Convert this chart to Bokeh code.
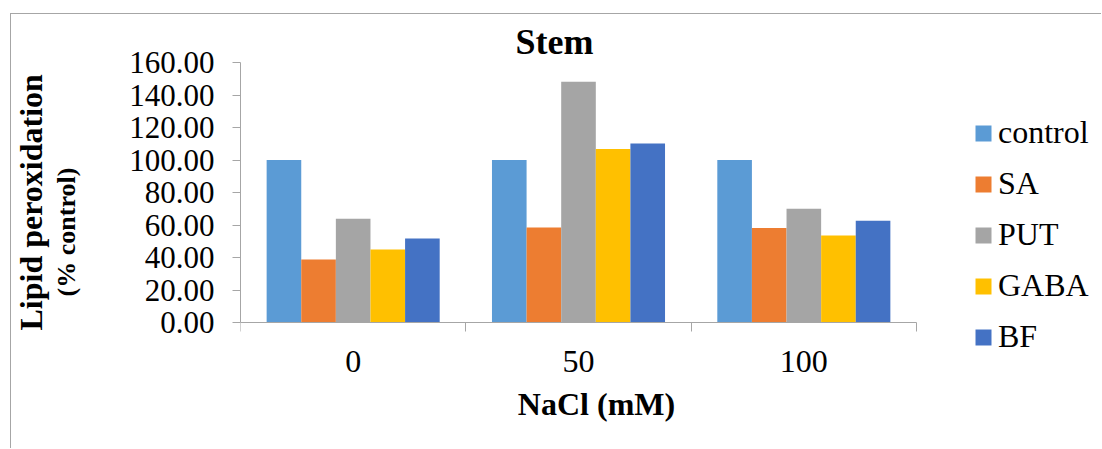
from bokeh.plotting import figure
from bokeh.models import (FixedTicker, PrintfTickFormatter, Legend, LegendItem, Title, Label,
                          LinearAxis)
from bokeh.embed import file_html
from bokeh.resources import INLINE

# ---- data ----
categories = ["0", "50", "100"]
series_names = ["control", "SA", "PUT", "GABA", "BF"]
control = [100.0, 100.0, 100.0]
sa = [38.8, 58.5, 58.1]
put = [63.8, 148.1, 70.0]
gaba = [44.9, 106.7, 53.5]
bf = [51.7, 110.2, 62.6]
y_ticks = [0, 20, 40, 60, 80, 100, 120, 140, 160]
y_max = 160

series_values = [control, sa, put, gaba, bf]
colors = ["#5B9BD5", "#ED7D31", "#A5A5A5", "#FFC000", "#4472C4"]

FONT = "Liberation Serif"
AXIS_GRAY = "#a6a6a6"

# page layout (pixels): plot area of the axes
AX_L, AX_R, AX_T, AX_B = 240, 916, 62, 322
OX, OY = 11, 14          # canvas origin on the page (after the outer border)
PAGE_W, PAGE_H = 1102, 449
W, H = PAGE_W - OX, PAGE_H - OY

ncat = len(categories)
px_per_x = (AX_R - AX_L) / ncat
px_per_y = (AX_B - AX_T) / y_max
# the frame fills everything right of the y axis; axes are bounded to the data area
x_end = (PAGE_W - AX_L) / px_per_x
y_start = -(PAGE_H - AX_B) / px_per_y
y_end = (AX_B - OY) / px_per_y

def dx(px):
    return (px - AX_L) / px_per_x
def dy(py):
    return (AX_B - py) / px_per_y

p = figure(width=W, height=H, x_range=(0, x_end), y_range=(y_start, y_end),
           output_backend="svg", toolbar_location=None, title_location=None,
           min_border_left=AX_L - OX, min_border_right=0,
           min_border_top=0, min_border_bottom=0,
           background_fill_color="white", border_fill_color="white",
           styles={"margin-left": "10px", "margin-top": "13px",
                   "border-left": "1px solid #a6a6a6", "border-top": "1px solid #a6a6a6"})
p.outline_line_color = None
p.xgrid.visible = False
p.ygrid.visible = False

bw = 0.1536
renderers = []
for j, (name, vals) in enumerate(zip(series_names, series_values)):
    xs = [i + 0.5 + (j - 2) * bw for i in range(ncat)]
    r = p.vbar(x=xs, top=vals, width=bw, fill_color=colors[j], line_color=None)
    renderers.append((name, r))

# y axis
ya = p.yaxis[0]
ya.bounds = (0, y_max)
ya.ticker = FixedTicker(ticks=y_ticks, minor_ticks=[])
ya.formatter = PrintfTickFormatter(format="%.2f")
ya.axis_line_color = AXIS_GRAY
ya.major_tick_line_color = AXIS_GRAY
ya.major_tick_out = 8
ya.major_tick_in = 0
ya.minor_tick_line_color = None
ya.major_label_text_font = FONT
ya.major_label_text_font_size = "31px"
ya.major_label_text_color = "black"
ya.major_label_standoff = 18

# second line of the y title, carried by a bare axis so that it sits at a set distance
sub = LinearAxis(ticker=FixedTicker(ticks=[]), bounds=(dy(267), dy(137)),
                 axis_line_color=None, major_tick_line_color=None, minor_tick_line_color=None,
                 major_tick_out=0, minor_tick_out=0, major_label_text_font_size="0px",
                 axis_label="(% control)", axis_label_standoff=46,
                 axis_label_text_font=FONT, axis_label_text_font_size="26px",
                 axis_label_text_font_style="bold", axis_label_text_color="black")
p.add_layout(sub, "left")
p.add_layout(Title(text="Lipid peroxidation", align="left", offset=PAGE_H - 330, standoff=-1,
                   text_font=FONT, text_font_size="32px", text_font_style="bold",
                   text_color="black"), "left")

# x axis (drawn at y = 0 inside the frame)
xa = p.xaxis[0]
xa.fixed_location = 0
xa.bounds = (0, ncat)
centers = [i + 0.5 for i in range(ncat)]
xa.ticker = FixedTicker(ticks=centers, minor_ticks=list(range(ncat + 1)))
xa.major_label_overrides = {c: lab for c, lab in zip(centers, categories)}
xa.axis_line_color = AXIS_GRAY
xa.major_tick_line_color = None
xa.major_tick_out = 0
xa.major_tick_in = 0
xa.minor_tick_line_color = AXIS_GRAY
xa.minor_tick_out = 9
xa.minor_tick_in = 0
xa.major_label_text_font = FONT
xa.major_label_text_font_size = "32px"
xa.major_label_text_color = "black"
xa.major_label_standoff = 19

# chart title and x axis title
p.add_layout(Label(x=dx(554), y=dy(41), text="Stem", text_align="center",
                   text_baseline="alphabetic", text_font=FONT, text_font_size="36px",
                   text_font_style="bold", text_color="black"))
p.add_layout(Label(x=dx(596), y=dy(403), text="NaCl (mM)", text_align="center",
                   text_baseline="alphabetic", text_font=FONT, text_font_size="32px",
                   text_font_style="bold", text_color="black"))

# legend
legend = Legend(items=[LegendItem(label=n, renderers=[r]) for n, r in renderers],
                location=(973 - AX_L, PAGE_H - 355), orientation="vertical",
                glyph_width=20, glyph_height=20, label_standoff=5,
                label_height=37, spacing=14, padding=0, margin=0,
                label_text_font=FONT, label_text_font_size="32px",
                label_text_color="black",
                border_line_color=None, background_fill_alpha=0)
p.add_layout(legend, "center")

open("out.html", "w").write(file_html(p, INLINE))
